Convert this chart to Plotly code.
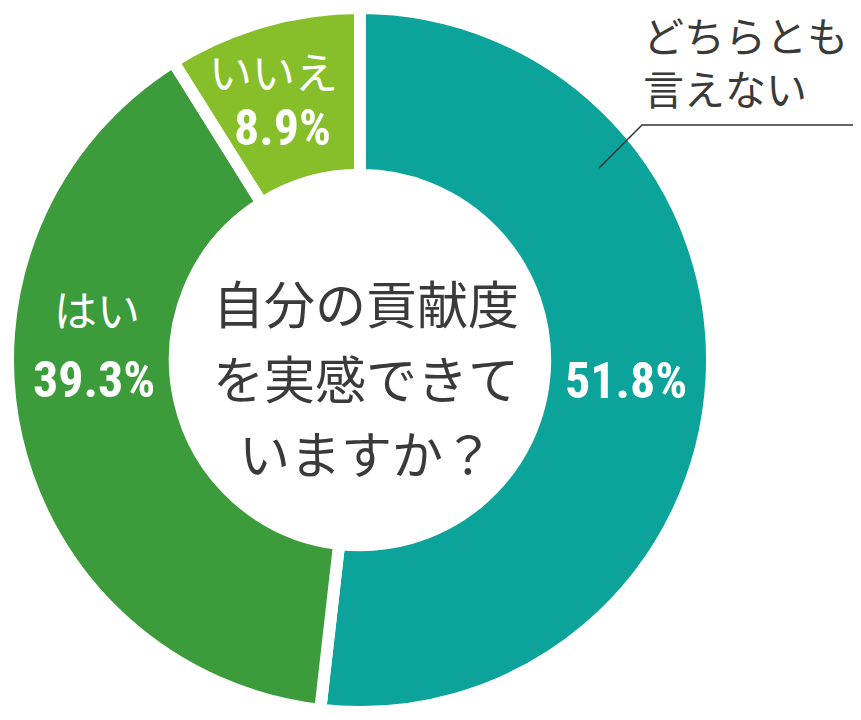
import plotly.graph_objects as go

W, H = 861, 720
OFF = 8  # page body margin offset in the screenshot

categories = ["どちらとも言えない", "はい", "いいえ"]
values = [51.8, 39.3, 8.9]
colors = ["#0ca39a", "#3c9c3b", "#86bf2a"]
center_lines = ["自分の貢献度", "を実感できて", "いますか？"]
outside_lines = ["どちらとも", "言えない"]

def px(x):
    return (x - OFF) / W

def py(y):
    return 1 - (y - OFF) / H

fig = go.Figure()
fig.add_trace(go.Pie(
    labels=categories,
    values=values,
    sort=False,
    direction="clockwise",
    rotation=0,
    hole=0.526,
    marker=dict(colors=colors, line=dict(color="white", width=12)),
    textinfo="none",
    hoverinfo="label+percent",
    showlegend=False,
    domain=dict(x=[0, 704 / W], y=[1 - 704 / H, 1]),
))

jp = "Noto Sans CJK JP"
num = "Liberation Sans Narrow, Roboto Condensed, Roboto, sans-serif"
dark = "#3a3a3a"

def note(x, y, text, family, size, color, xanchor="center"):
    return dict(x=px(x), y=py(y), text=text, showarrow=False, xref="paper", yref="paper",
                xanchor=xanchor, yanchor="middle", align="left" if xanchor == "left" else "center",
                font=dict(family=family, size=size, color=color))

ann = []
for i, line in enumerate(center_lines):
    ann.append(note(366, 302 + i * 75, line, jp, 51, dark))

ann.append(note(273, 70, categories[2], jp, 43, "white"))
ann.append(note(282, 128, "<b>%.1f%%</b>" % values[2], num, 50, "white"))
ann.append(note(97, 308, categories[1], jp, 43, "white"))
ann.append(note(94, 380, "<b>%.1f%%</b>" % values[1], num, 50, "white"))
ann.append(note(626, 381, "<b>%.1f%%</b>" % values[0], num, 50, "white"))
ann.append(note(641, 61, "<br>".join(outside_lines), jp, 41, dark, "left"))

fig.update_layout(
    width=W, height=H,
    margin=dict(l=0, r=0, t=0, b=0),
    paper_bgcolor="white", plot_bgcolor="white",
    annotations=ann,
    shapes=[dict(type="path", xref="paper", yref="paper",
                 path="M %f %f L %f %f L %f %f" % (px(599), py(168), px(642), py(125), px(870), py(125)),
                 line=dict(color="#333333", width=1.5))],
)

fig.write_html("out.html")
